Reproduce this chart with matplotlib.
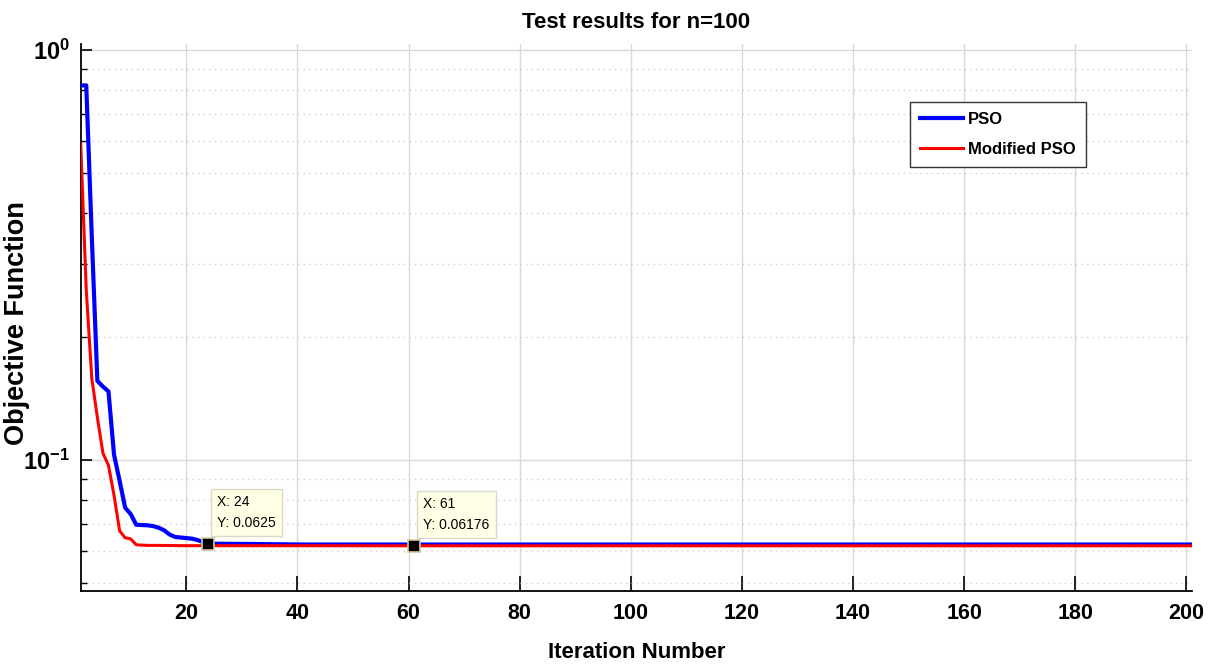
import matplotlib
matplotlib.use("Agg")
import matplotlib.pyplot as plt
from matplotlib import font_manager
from matplotlib.ticker import LogLocator, NullFormatter

# dane (iteracja -> wartość funkcji celu)
pso_iter = [1, 2, 3, 4, 5, 6, 7, 8, 9, 10, 11, 12, 13, 14, 15, 16, 17, 18, 19, 20,
            21, 22, 23, 24, 31, 41, 61, 201]
pso_val = [0.82, 0.82, 0.35, 0.156, 0.151, 0.147, 0.103, 0.089, 0.0765, 0.0738,
           0.0695, 0.0694, 0.0693, 0.069, 0.0684, 0.0674, 0.0658, 0.0649, 0.0647, 0.0645,
           0.0643, 0.0638, 0.0631, 0.0625, 0.0624, 0.0622, 0.0622, 0.0622]

mpso_iter = [1, 2, 3, 4, 5, 6, 7, 8, 9, 10, 11, 12, 13, 15, 20, 24, 61, 201]
mpso_val = [0.59, 0.26, 0.158, 0.127, 0.104, 0.097, 0.082, 0.0672, 0.0646, 0.0642,
            0.0621, 0.0620, 0.0619, 0.0619, 0.0618, 0.0618, 0.06176, 0.06176]

tips_x = [24, 61]
tips_y = [0.0625, 0.06176]

x_ticks = [20, 40, 60, 80, 100, 120, 140, 160, 180, 200]

installed = {f.name for f in font_manager.fontManager.ttflist}
NARROW = "Liberation Sans Narrow" if "Liberation Sans Narrow" in installed else "Liberation Sans"
WIDE = "Liberation Sans"

plt.rcParams["font.family"] = [NARROW, "DejaVu Sans"]
plt.rcParams["mathtext.fontset"] = "custom"
plt.rcParams["mathtext.rm"] = NARROW + ":bold"
plt.rcParams["mathtext.bf"] = NARROW + ":bold"
plt.rcParams["mathtext.it"] = NARROW + ":bold"
plt.rcParams["mathtext.default"] = "rm"

fig = plt.figure(figsize=(12.19, 6.70), dpi=100)
ax = fig.add_axes([0.0662, 0.1184, 0.9116, 0.8155])

ax.plot(pso_iter, pso_val, color=(0, 0, 1), lw=3.0, label="PSO", zorder=3)
ax.plot(mpso_iter, mpso_val, color=(1, 0, 0), lw=2.2, label="Modified PSO", zorder=4)

ax.set_yscale("log")
ax.set_xlim(1, 201)
ax.set_ylim(0.048, 1.033)

ax.set_xticks(x_ticks)
ax.set_xticklabels([str(t) for t in x_ticks])
ax.set_yticks([0.1, 1.0])
ax.set_yticklabels([r"$10^{-1}$", r"$10^{0}$"])
ax.yaxis.set_minor_locator(LogLocator(base=10, subs=[2, 3, 4, 5, 6, 7, 8, 9]))
ax.yaxis.set_minor_formatter(NullFormatter())
ax.xaxis.set_minor_locator(plt.NullLocator())

for lab in ax.get_xticklabels():
    lab.set_fontsize(15.5)
    lab.set_fontweight("bold")
for lab in ax.get_yticklabels():
    lab.set_fontsize(17)
    lab.set_fontweight("bold")

ax.tick_params(axis="x", which="major", direction="in", length=11, width=1.2, pad=9)
ax.tick_params(axis="y", which="major", direction="in", length=8, width=1.2, pad=8)
ax.tick_params(axis="y", which="minor", direction="in", length=4, width=1.0)

ax.grid(True, which="major", color="#d9d9d9", lw=1.0, ls="-")
ax.grid(True, which="minor", axis="y", color="#d2d2d2", lw=1.0, ls=(0, (1, 3)))
ax.set_axisbelow(True)

for s in ["top", "right"]:
    ax.spines[s].set_visible(False)
for s in ["left", "bottom"]:
    ax.spines[s].set_linewidth(1.3)

ax.set_title("Test results for n=100", fontsize=16, fontweight="bold", pad=12)
ax.set_xlabel("Iteration Number", fontsize=16, fontweight="bold", labelpad=13)
ax.set_ylabel("Objective Function", fontsize=19.5, fontweight="bold", family=WIDE)
ax.yaxis.set_label_coords(-0.046, 0.49)

leg = ax.legend(loc="upper left", bbox_to_anchor=(0.746, 0.894), borderaxespad=0,
                prop={"weight": "bold", "size": 12}, fancybox=False, framealpha=1,
                edgecolor="#333333", handlelength=2.6, borderpad=0.6, labelspacing=0.9,
                handletextpad=0.3)
leg.get_frame().set_linewidth(1.0)

# datatipy jak w MATLAB
for tx, ty in zip(tips_x, tips_y):
    ax.plot([tx], [ty], marker="s", ms=8, mfc="black", mec="#cfc8a0", mew=1.2,
            ls="none", zorder=6)
    ax.annotate(f"X: {tx}\nY: {ty:g}", xy=(tx, ty), xytext=(9, 14),
                textcoords="offset pixels", ha="left", va="bottom", fontsize=10,
                linespacing=1.6, zorder=7,
                bbox=dict(boxstyle="square,pad=0.45", fc="#ffffe6", ec="#d8d8c8", lw=1.0))

fig.savefig("out.png", dpi=100)
